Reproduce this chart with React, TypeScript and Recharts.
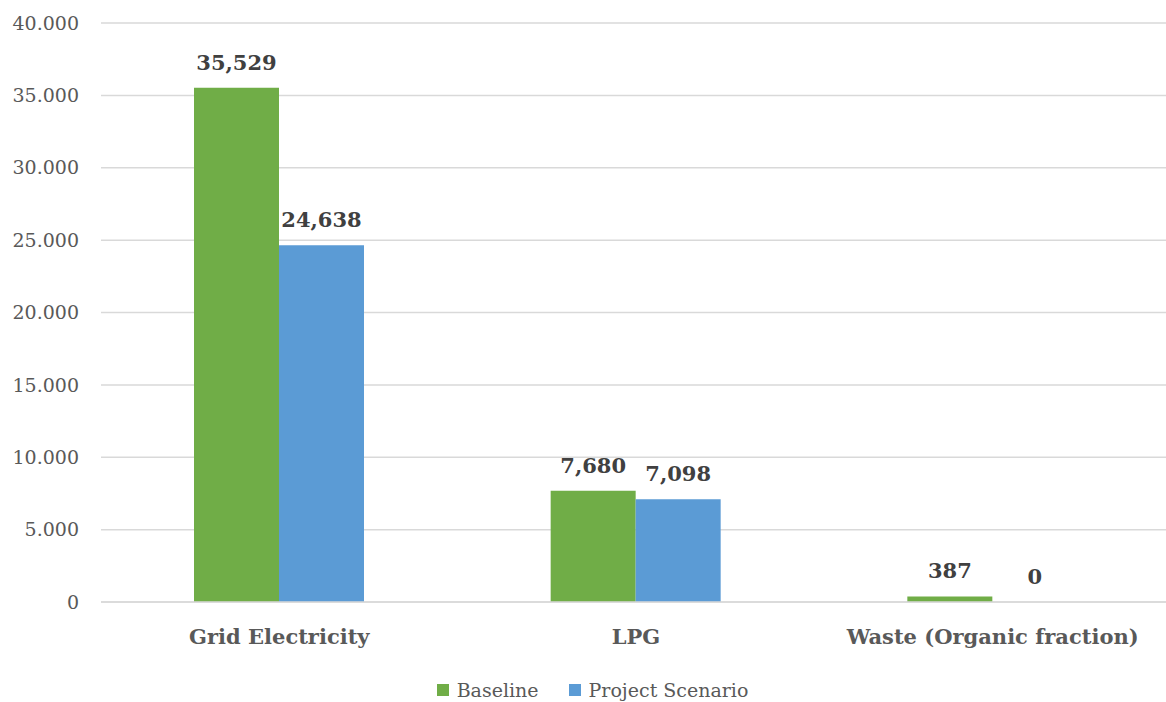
import { BarChart, Bar, XAxis, YAxis, CartesianGrid, Legend, LabelList, Rectangle } from 'recharts';

const categories = ['Grid Electricity', 'LPG', 'Waste (Organic fraction)'];
const baselineValues = [35529, 7680, 387];
const projectValues = [24638, 7098, 0];
const yTicks = [0, 5000, 10000, 15000, 20000, 25000, 30000, 35000, 40000];

const data = categories.map((name, i) => ({
  name,
  baseline: baselineValues[i],
  project: projectValues[i],
}));

const FONT = '"DejaVu Serif", serif';
const GREEN = '#70AD47';
const BLUE = '#5B9BD5';
const labelStyle = { fontFamily: FONT, fontSize: 21, fontWeight: 'bold', fill: '#404040' };

// y axis uses dot as thousands separator, bar labels use comma
const formatTick = (v: number) => v.toLocaleString('de-DE');
const formatLabel = (v: any) => Number(v).toLocaleString('en-US');

// draws the value above the bar, also when the value is 0
const renderLabel = (props: any) => {
  const { x, y, width, value } = props;
  return (
    <text x={Number(x) + Number(width) / 2} y={Number(y) - 18} textAnchor="middle" style={labelStyle}>
      {formatLabel(value)}
    </text>
  );
};

// skip the tiny placeholder rect for zero values
const barShape = (props: any) => {
  if (!props.value || Math.abs(props.height) < 0.5) return <g />;
  return <Rectangle {...props} />;
};

const LegendContent = () => (
  <div
    style={{
      height: 24,
      display: 'flex',
      justifyContent: 'center',
      alignItems: 'center',
      fontFamily: FONT,
      fontSize: 19,
      color: '#595959',
      paddingLeft: 14,
    }}
  >
    <span style={{ display: 'inline-block', width: 12, height: 12, background: GREEN, marginRight: 8 }} />
    <span style={{ marginRight: 30 }}>Baseline</span>
    <span style={{ display: 'inline-block', width: 12, height: 12, background: BLUE, marginRight: 8 }} />
    <span>Project Scenario</span>
  </div>
);

const App = () => {
  return (
    <div style={{ position: 'absolute', left: 0, top: 0, width: 1166, height: 702, overflow: 'hidden', background: '#fff' }}>
      <BarChart
        width={1171}
        height={702}
        data={data}
        margin={{ top: 23, right: 0, bottom: 0, left: 0 }}
        barGap={0}
      >
        <CartesianGrid vertical={false} stroke="#D9D9D9" strokeWidth={1.5} />
        <XAxis
          dataKey="name"
          height={76}
          tickLine={false}
          axisLine={{ stroke: '#D9D9D9', strokeWidth: 1.5 }}
          tickMargin={21}
          tick={{ fontFamily: FONT, fontSize: 21, fontWeight: 'bold', fill: '#595959' }}
          interval={0}
        />
        <YAxis
          width={101}
          domain={[0, 40000]}
          ticks={yTicks}
          tickFormatter={formatTick}
          tickLine={false}
          axisLine={false}
          tickMargin={16}
          tick={{ fontFamily: FONT, fontSize: 19, fill: '#595959' }}
        />
        <Legend verticalAlign="bottom" content={<LegendContent />} />
        <Bar dataKey="baseline" name="Baseline" fill={GREEN} barSize={85} isAnimationActive={false}>
          <LabelList dataKey="baseline" content={renderLabel} />
        </Bar>
        <Bar
          dataKey="project"
          name="Project Scenario"
          fill={BLUE}
          barSize={85}
          minPointSize={0.01}
          shape={barShape}
          isAnimationActive={false}
        >
          <LabelList dataKey="project" content={renderLabel} />
        </Bar>
      </BarChart>
    </div>
  );
};

export default App;
